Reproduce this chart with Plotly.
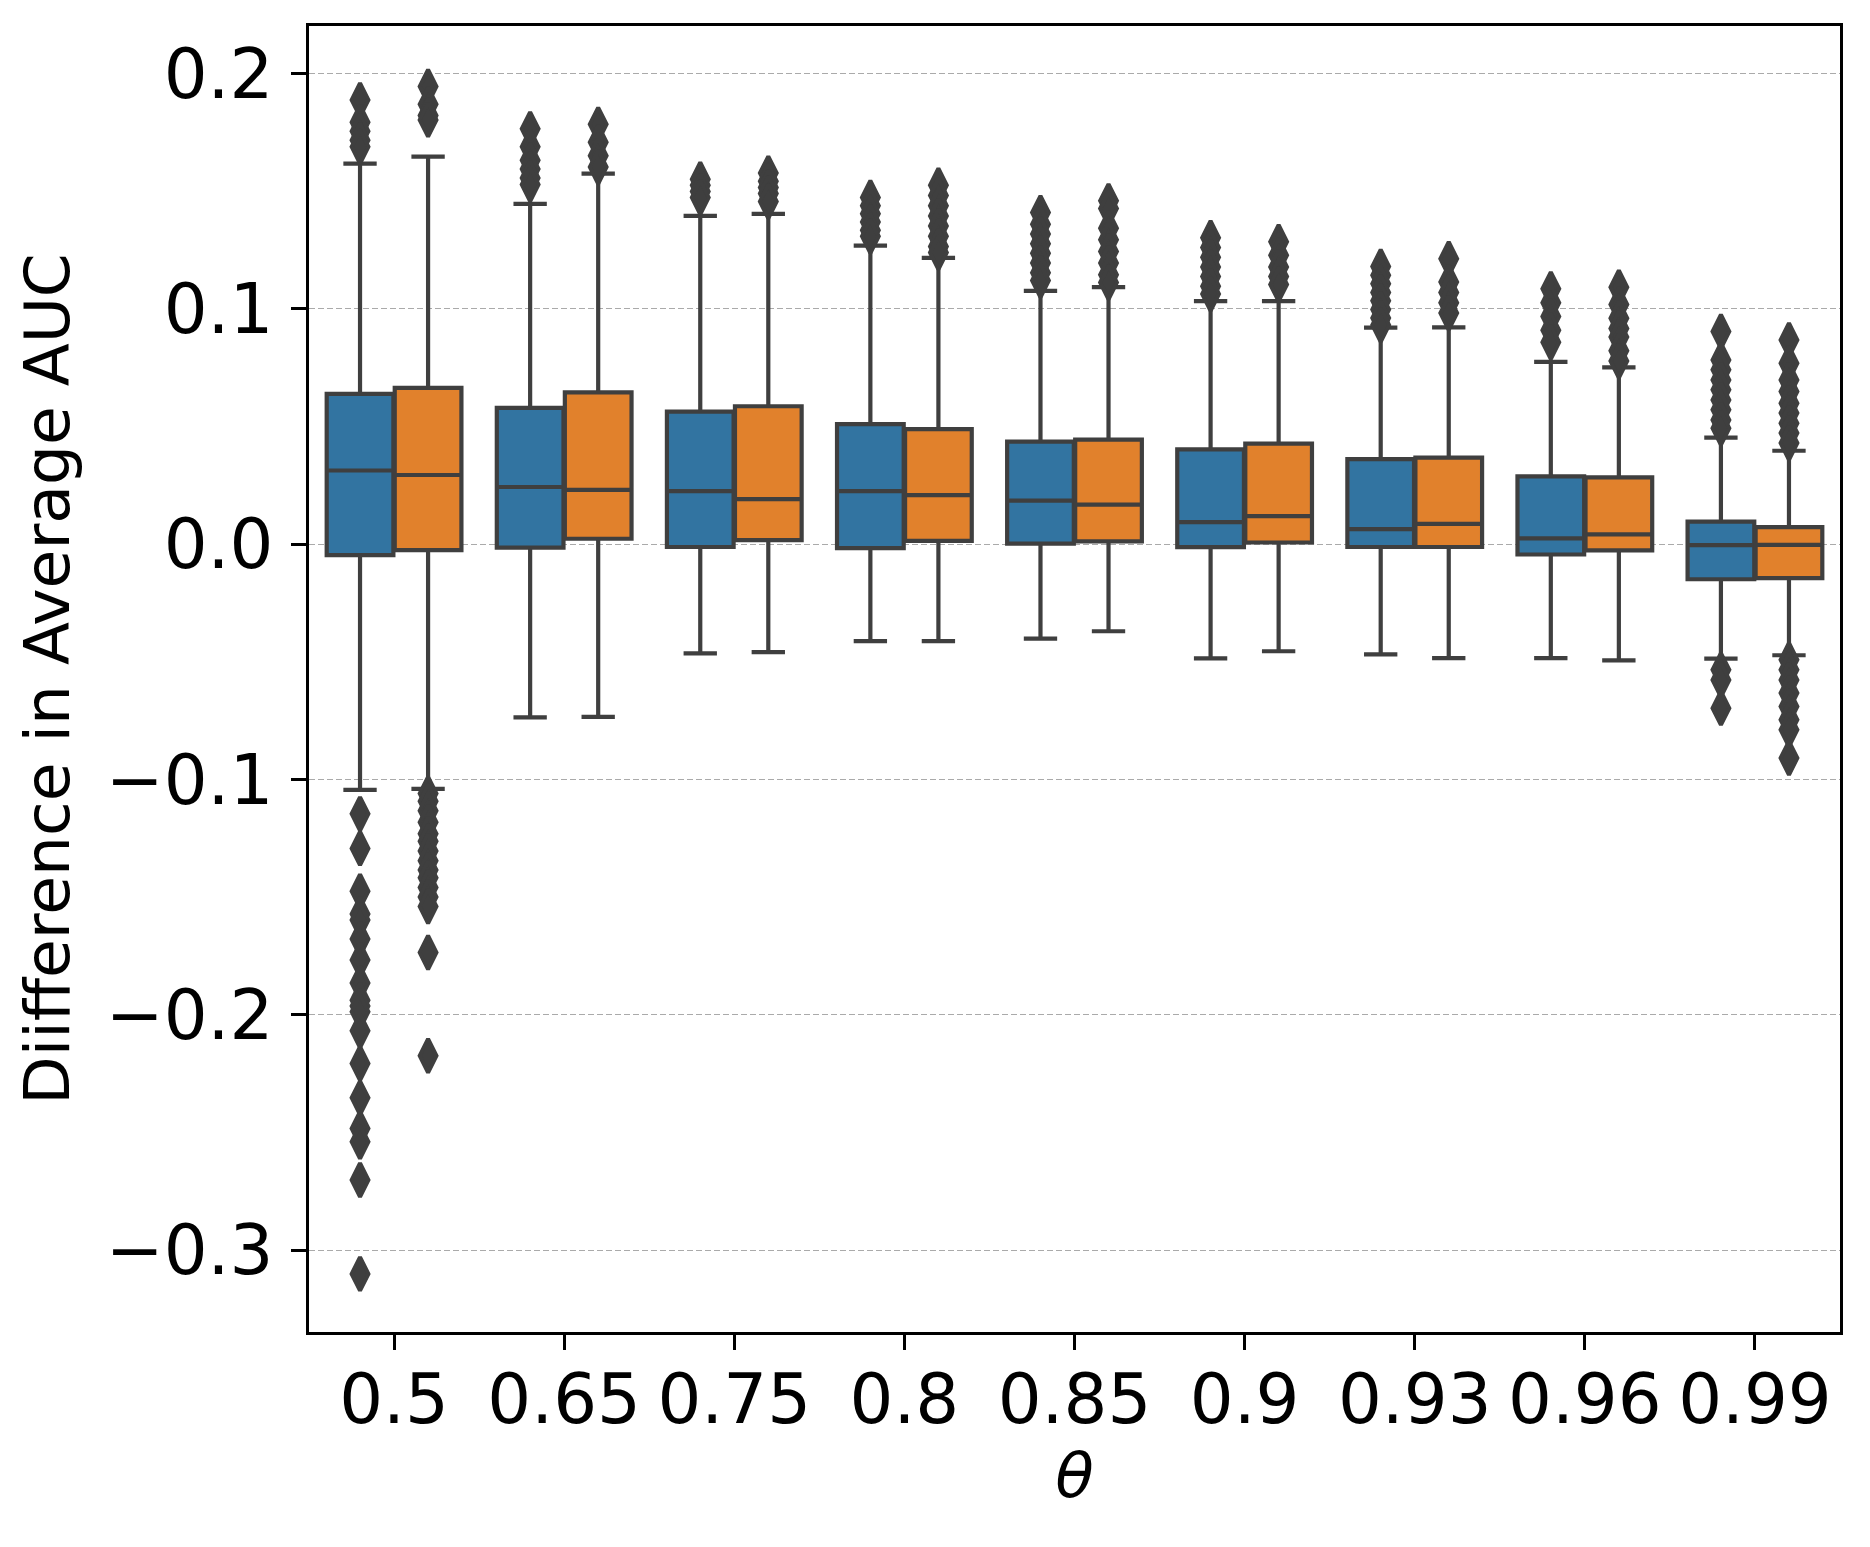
import plotly.graph_objects as go

# ---- data ----
categories = ["0.5", "0.65", "0.75", "0.8", "0.85", "0.9", "0.93", "0.96", "0.99"]

blue_q1 = [-0.0047, -0.0015, -0.0012, -0.0017, 0.0002, -0.0013, -0.0012, -0.0044, -0.0149]
blue_median = [0.0313, 0.0243, 0.0225, 0.0225, 0.0185, 0.0094, 0.0064, 0.0025, -0.0004]
blue_q3 = [0.0639, 0.0579, 0.0563, 0.0510, 0.0436, 0.0403, 0.0361, 0.0288, 0.0096]
blue_lower = [-0.1044, -0.0736, -0.0464, -0.0412, -0.0401, -0.0485, -0.0468, -0.0484, -0.0486]
blue_upper = [0.1617, 0.1446, 0.1395, 0.1269, 0.1076, 0.1033, 0.0920, 0.0775, 0.0453]

orange_q1 = [-0.0025, 0.0023, 0.0017, 0.0014, 0.0012, 0.0007, -0.0012, -0.0026, -0.0144]
orange_median = [0.0294, 0.0231, 0.0191, 0.0208, 0.0168, 0.0119, 0.0086, 0.0042, -0.0003]
orange_q3 = [0.0664, 0.0645, 0.0586, 0.0489, 0.0444, 0.0427, 0.0368, 0.0284, 0.0072]
orange_lower = [-0.1040, -0.0734, -0.0459, -0.0412, -0.0370, -0.0455, -0.0484, -0.0494, -0.0472]
orange_upper = [0.1647, 0.1575, 0.1404, 0.1217, 0.1092, 0.1033, 0.0921, 0.0751, 0.0397]

blue_outliers = [
    [0.1888, 0.1793, 0.1755, 0.1717, 0.1689, -0.1146, -0.1293, -0.1475, -0.1572, -0.1597,
     -0.1678, -0.1767, -0.1865, -0.1938, -0.1963, -0.1987, -0.2068, -0.2207, -0.2353,
     -0.2483, -0.2540, -0.2702, -0.3101],
    [0.1765, 0.1689, 0.1632, 0.1594, 0.1556, 0.1528],
    [0.1551, 0.1525, 0.1499, 0.1473],
    [0.1473, 0.1438, 0.1404, 0.1369, 0.1334, 0.1308],
    [0.1409, 0.1360, 0.1318, 0.1277, 0.1236, 0.1195, 0.1153, 0.1120],
    [0.1302, 0.1261, 0.1219, 0.1178, 0.1137, 0.1096, 0.1063],
    [0.1180, 0.1143, 0.1107, 0.1070, 0.1034, 0.0997, 0.0961, 0.0931],
    [0.1085, 0.1026, 0.0968, 0.0909, 0.0858],
    [0.0904, 0.0783, 0.0741, 0.0698, 0.0656, 0.0613, 0.0571, 0.0528, 0.0493,
     -0.0534, -0.0577, -0.0697],
]
orange_outliers = [
    [0.1945, 0.1869, 0.1822, 0.1803, -0.1060, -0.1093, -0.1133, -0.1182, -0.1231, -0.1263,
     -0.1304, -0.1345, -0.1385, -0.1418, -0.1459, -0.1499, -0.1540, -0.1735, -0.2174],
    [0.1784, 0.1708, 0.1651, 0.1603],
    [0.1577, 0.1542, 0.1516, 0.1490, 0.1456],
    [0.1525, 0.1482, 0.1438, 0.1395, 0.1352, 0.1308, 0.1265, 0.1239],
    [0.1459, 0.1426, 0.1343, 0.1294, 0.1244, 0.1195, 0.1145, 0.1112],
    [0.1285, 0.1228, 0.1178, 0.1137, 0.1104],
    [0.1213, 0.1114, 0.1070, 0.1026, 0.0982],
    [0.1092, 0.1019, 0.0960, 0.0917, 0.0880, 0.0822, 0.0778],
    [0.0868, 0.0769, 0.0698, 0.0649, 0.0599, 0.0557, 0.0514, 0.0472, 0.0430,
     -0.0491, -0.0534, -0.0577, -0.0633, -0.0690, -0.0746, -0.0789, -0.0909],
]

y_ticks = [-0.3, -0.2, -0.1, 0.0, 0.1, 0.2]
y_ticktext = ["\u22120.3", "\u22120.2", "\u22120.1", "0.0", "0.1", "0.2"]

# ---- styling ----
BLUE = "#3274a1"
ORANGE = "#e1812c"
EDGE = "#3f3f3f"
FONT = "DejaVu Sans"
BOX_W = 0.392
OFFSET = 0.2

fig = go.Figure()

groups = [
    ("group 1", -OFFSET, BLUE, blue_q1, blue_median, blue_q3, blue_lower, blue_upper, blue_outliers),
    ("group 2", OFFSET, ORANGE, orange_q1, orange_median, orange_q3, orange_lower, orange_upper, orange_outliers),
]

for name, off, color, q1, med, q3, lo, hi, outl in groups:
    xs = [i + off for i in range(len(categories))]
    fig.add_trace(go.Box(
        name=name, x=xs, q1=q1, median=med, q3=q3, lowerfence=lo, upperfence=hi,
        width=BOX_W, whiskerwidth=0.5, fillcolor=color,
        line=dict(color=EDGE, width=4.2), boxpoints=False, showlegend=False,
        hoverinfo="skip",
    ))
    ox, oy = [], []
    for i, vals in enumerate(outl):
        for v in vals:
            ox.append(i + off)
            oy.append(v)
    fig.add_trace(go.Scatter(
        x=ox, y=oy, mode="markers", showlegend=False, hoverinfo="skip",
        marker=dict(symbol="diamond-tall", size=24, color=EDGE,
                    line=dict(color=EDGE, width=4)),
    ))

fig.update_layout(
    width=1870, height=1547,
    margin=dict(l=301, r=38, t=18, b=223),
    paper_bgcolor="white", plot_bgcolor="white",
    font=dict(family=FONT, color="black"),
)
fig.update_xaxes(
    range=[-0.5, 8.5], tickmode="array",
    tickvals=list(range(len(categories))), ticktext=categories,
    showgrid=False, zeroline=False,
    showline=True, linecolor="black", linewidth=2.5, mirror=True,
    ticks="outside", ticklen=15, tickwidth=2.5, tickcolor="black",
    ticklabelstandoff=-10,
    tickfont=dict(size=69, family=FONT, color="black"),
    title=dict(text="<i>\u03b8</i>", font=dict(size=63, family=FONT, color="black"), standoff=6),
)
fig.update_yaxes(
    range=[-0.3348, 0.2202], tickmode="array", tickvals=y_ticks, ticktext=y_ticktext,
    showgrid=True, gridcolor="#aaaaaa", gridwidth=1.4, griddash="6px,3px",
    zeroline=False, layer="above traces",
    showline=True, linecolor="black", linewidth=2.5, mirror=True,
    ticks="outside", ticklen=15, tickwidth=2.5, tickcolor="black",
    ticklabelstandoff=4,
    tickfont=dict(size=69, family=FONT, color="black"),
    title=dict(text="Diifference in Average AUC", font=dict(size=63, family=FONT, color="black"), standoff=16),
)

fig.write_html("out.html")
